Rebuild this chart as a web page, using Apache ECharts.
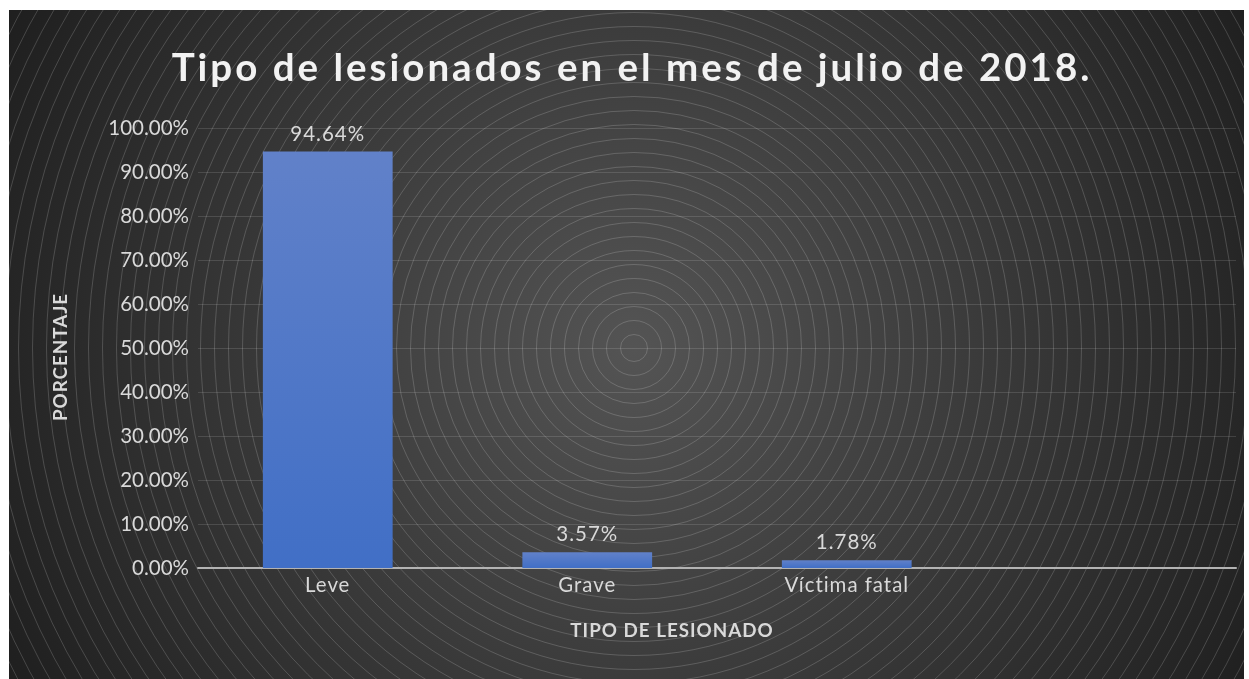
<!DOCTYPE html>
<html>
<head>
<meta charset="utf-8">
<script src="https://cdn.jsdelivr.net/npm/echarts@6/dist/echarts.min.js"></script>
<style>
  html, body { margin: 0; padding: 0; background: #ffffff; }
  #chart { position: absolute; left: 9px; top: 10px; width: 1235px; height: 669px; }
</style>
</head>
<body>
<div id="chart"></div>
<script>
// Injured-person types, July 2018 (percent of total)
const categories = ['Leve', 'Grave', 'Víctima fatal', ''];
const percentages = [94.64, 3.57, 1.78, null];
const yTicks = { min: 0, max: 100, interval: 10 };

const TITLE_SIZE = 38.5;
const CATEGORY_SIZE = 20.4;

// Wider tracking for the title and category names (canvas letterSpacing)
const tracking = [
  { size: new RegExp('\\b' + String(TITLE_SIZE).replace('.', '\\.') + 'px'), spacing: '3px' },
  { size: new RegExp('\\b' + String(CATEGORY_SIZE).replace('.', '\\.') + 'px'), spacing: '1px' }
];
(function () {
  const proto = CanvasRenderingContext2D.prototype;
  const baseFillText = proto.fillText;
  proto.fillText = function (text, x, y, maxWidth) {
    const rule = tracking.find(t => t.size.test(this.font));
    if (rule && 'letterSpacing' in this) {
      const prev = this.letterSpacing;
      this.letterSpacing = rule.spacing;
      maxWidth === undefined ? baseFillText.call(this, text, x, y) : baseFillText.call(this, text, x, y, maxWidth);
      this.letterSpacing = prev;
    } else {
      maxWidth === undefined ? baseFillText.call(this, text, x, y) : baseFillText.call(this, text, x, y, maxWidth);
    }
  };
})();

const cx = 625, cy = 338;

// Concentric-ring backdrop
const rings = [];
for (let r = 13.5; r < 760; r += 14) {
  rings.push({
    type: 'circle',
    silent: true,
    z: -10,
    shape: { cx: cx, cy: cy, r: r },
    style: { fill: null, stroke: 'rgba(255,255,255,0.22)', lineWidth: 0.8 }
  });
}

const chart = echarts.init(document.getElementById('chart'), null, { renderer: 'canvas' });

chart.setOption({
  animation: false,
  backgroundColor: {
    type: 'radial', x: cx, y: cy, r: 720, global: true,
    colorStops: [
      { offset: 0, color: '#545454' },
      { offset: 0.45, color: '#3c3c3c' },
      { offset: 1, color: '#1e1e1e' }
    ]
  },
  graphic: rings.concat([
    {
      // chart title
      type: 'text',
      silent: true,
      z: 5,
      x: 623, y: 39,
      style: {
        text: 'Tipo de lesionados en el mes de julio de 2018.',
        fill: '#f2f2f2',
        font: 'bold ' + TITLE_SIZE + 'px Lato',
        align: 'center',
        verticalAlign: 'top'
      }
    },
    {
      type: 'text',
      silent: true,
      z: 5,
      x: 52, y: 347,
      rotation: Math.PI / 2,
      style: {
        text: 'PORCENTAJE',
        fill: '#d9d9d9',
        font: 'bold 18.8px Lato',
        align: 'center',
        verticalAlign: 'middle'
      }
    },
    {
      type: 'text',
      silent: true,
      z: 5,
      x: 663, y: 621,
      style: {
        text: 'TIPO DE LESIONADO',
        fill: '#d9d9d9',
        font: 'bold 18.8px Lato',
        align: 'center',
        verticalAlign: 'middle'
      }
    }
  ]),
  grid: { left: 189, right: 8, top: 118, bottom: 111, containLabel: false },
  xAxis: {
    type: 'category',
    data: categories,
    axisLine: { show: true, lineStyle: { color: '#b3b3b3', width: 2 } },
    axisTick: { show: false },
    axisLabel: { color: '#d9d9d9', fontFamily: 'Lato', fontSize: CATEGORY_SIZE, margin: 7 },
    splitLine: { show: false }
  },
  yAxis: {
    type: 'value',
    min: yTicks.min,
    max: yTicks.max,
    interval: yTicks.interval,
    axisLine: { show: false },
    axisTick: { show: false },
    axisLabel: {
      color: '#d9d9d9', fontFamily: 'Lato', fontSize: 20.5, margin: 9,
      formatter: v => v.toFixed(2) + '%'
    },
    splitLine: { lineStyle: { color: 'rgba(255,255,255,0.13)', width: 1 } }
  },
  series: [{
    type: 'bar',
    data: percentages,
    barWidth: '50%',
    itemStyle: {
      color: {
        type: 'linear', x: 0, y: 0, x2: 0, y2: 1,
        colorStops: [
          { offset: 0, color: '#6181c9' },
          { offset: 1, color: '#416fc6' }
        ]
      }
    },
    label: {
      show: true,
      position: 'top',
      distance: 7,
      color: '#d9d9d9',
      fontFamily: 'Lato',
      fontSize: 20.5,
      formatter: p => p.value == null ? '' : p.value.toFixed(2) + '%'
    }
  }]
});
</script>
</body>
</html>
